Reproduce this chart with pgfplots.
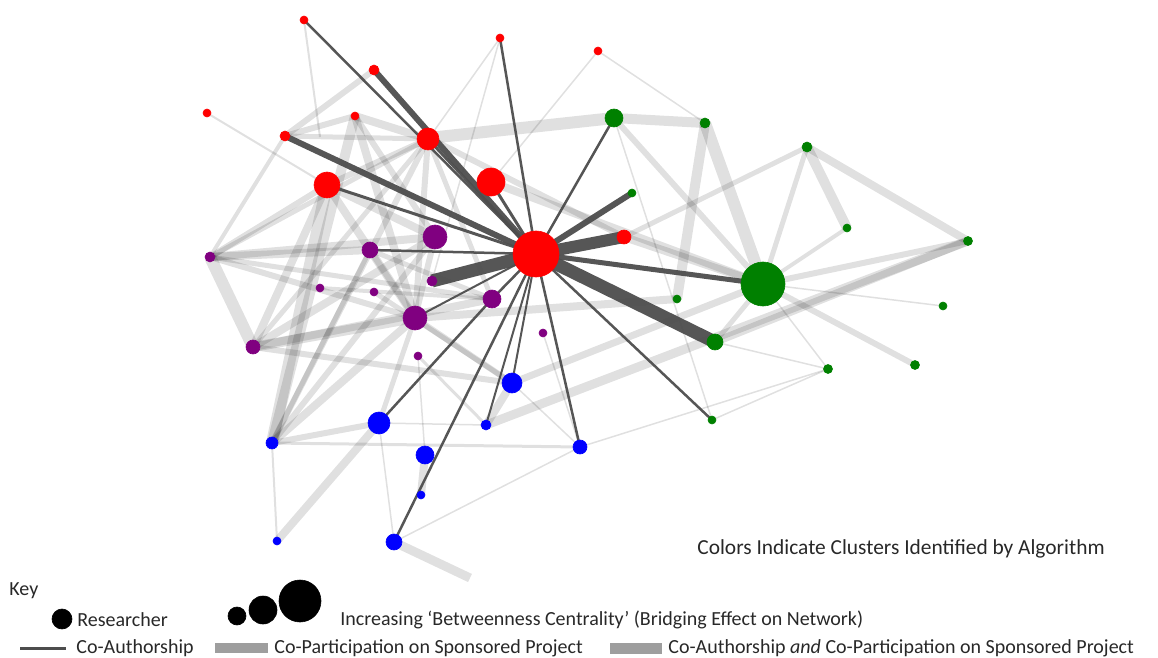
\documentclass[border=0pt]{standalone}
\usepackage{pgfplots}
\pgfplotsset{compat=1.18}
\usepackage{fontspec}
\setmainfont{Carlito}
\definecolor{nred}{RGB}{255,0,0}
\definecolor{ngreen}{RGB}{0,128,0}
\definecolor{npurple}{RGB}{128,0,128}
\definecolor{nblue}{RGB}{0,0,255}
\definecolor{dk}{RGB}{77,77,77}
\definecolor{txt}{RGB}{40,40,40}
\newcommand\LE[5]{\addplot[draw=black, draw opacity=0.12, line width=#5*0.5pt] coordinates {(#1,#2) (#3,#4)};}
\newcommand\DE[5]{\addplot[draw=dk, draw opacity=0.95, line width=#5*0.5pt] coordinates {(#1,#2) (#3,#4)};}
\newcommand\ND[4]{\addplot[only marks, mark=*, mark size=#4*0.5pt, draw=#1, fill=#1, line width=0.3pt] coordinates {(#2,#3)};}
\begin{document}
\begin{tikzpicture}
\begin{axis}[scale only axis, width=579pt, height=329pt,
  xmin=0, xmax=1158, ymin=0, ymax=658, y dir=reverse,
  axis lines=none, clip=false]
% ---- light edges (co-participation)
\LE{429}{138}{614}{118}{12}
\LE{614}{118}{705}{123}{10}
\LE{705}{123}{763}{284}{12}
\LE{705}{123}{677}{299}{10}
\LE{614}{118}{763}{284}{6}
\LE{614}{118}{712}{420}{1.5}
\LE{614}{118}{536}{254}{1.5}
\LE{807}{147}{847}{228}{10}
\LE{807}{147}{968}{241}{8}
\LE{807}{147}{763}{284}{5}
\LE{807}{147}{624}{237}{5}
\LE{847}{228}{763}{284}{4}
\LE{968}{241}{763}{284}{6}
\LE{968}{241}{715}{342}{8}
\LE{968}{241}{486}{425}{9}
\LE{763}{284}{512}{383}{7}
\LE{677}{299}{415}{318}{8}
\LE{763}{284}{915}{365}{6}
\LE{763}{284}{943}{306}{1.5}
\LE{763}{284}{828}{369}{1.5}
\LE{763}{284}{715}{342}{5}
\LE{715}{342}{828}{369}{1.5}
\LE{580}{447}{828}{369}{1.5}
\LE{712}{420}{828}{369}{1.5}
\LE{598}{51}{705}{123}{1.5}
\LE{598}{51}{491}{182}{1.5}
\LE{500}{38}{429}{138}{1.5}
\LE{500}{38}{432}{281}{1.5}
\LE{624}{237}{763}{284}{8}
\LE{491}{182}{763}{284}{8}
\LE{429}{138}{624}{237}{6}
% left cluster
\LE{210}{257}{253}{347}{12}
\LE{210}{257}{285}{136}{4}
\LE{210}{257}{327}{185}{6}
\LE{210}{257}{428}{139}{5}
\LE{210}{257}{435}{237}{8}
\LE{210}{257}{415}{318}{6}
\LE{210}{257}{370}{250}{8}
\LE{210}{257}{492}{299}{5}
\LE{253}{347}{327}{185}{8}
\LE{253}{347}{435}{237}{8}
\LE{253}{347}{415}{318}{10}
\LE{253}{347}{492}{299}{8}
\LE{253}{347}{512}{383}{6}
\LE{253}{347}{428}{139}{5}
\LE{272}{443}{327}{185}{12}
\LE{272}{443}{355}{116}{10}
\LE{272}{443}{428}{139}{6}
\LE{272}{443}{435}{237}{6}
\LE{272}{443}{370}{250}{5}
\LE{272}{443}{415}{318}{8}
\LE{272}{443}{379}{423}{6}
\LE{272}{443}{580}{447}{3}
\LE{272}{443}{277}{541}{2}
\LE{277}{541}{379}{423}{8}
\LE{285}{136}{355}{116}{6}
\LE{285}{136}{428}{139}{5}
\LE{355}{116}{428}{139}{8}
\LE{355}{116}{415}{318}{8}
\LE{355}{116}{435}{237}{6}
\LE{327}{185}{435}{237}{8}
\LE{327}{185}{415}{318}{8}
\LE{327}{185}{428}{139}{6}
\LE{374}{70}{285}{136}{6}
\LE{304}{20}{320}{137}{2}
\LE{207}{113}{327}{185}{2}
\LE{370}{250}{415}{318}{6}
\LE{435}{237}{415}{318}{6}
\LE{428}{139}{415}{318}{6}
\LE{428}{139}{492}{299}{5}
\LE{370}{250}{492}{299}{5}
\LE{320}{288}{492}{299}{4}
\LE{374}{292}{512}{383}{5}
\LE{379}{423}{415}{318}{5}
\LE{379}{423}{486}{425}{1.5}
\LE{379}{423}{394}{542}{1.5}
\LE{425}{455}{421}{495}{8}
\LE{425}{455}{418}{356}{1.5}
\LE{394}{542}{580}{447}{1.5}
\LE{394}{542}{470}{578}{9}
\LE{486}{425}{512}{383}{8}
\LE{512}{383}{415}{318}{6}
\LE{580}{447}{512}{383}{1.5}
\LE{543}{333}{580}{447}{1.5}
\LE{418}{356}{486}{425}{3}
% ---- dark edges (co-authorship)
\DE{304}{20}{536}{254}{2.5}
\DE{500}{38}{536}{254}{2.5}
\DE{374}{70}{536}{254}{6}
\DE{285}{136}{536}{254}{6}
\DE{327}{185}{536}{254}{3}
\DE{428}{139}{536}{254}{3}
\DE{491}{182}{536}{254}{3}
\DE{614}{118}{536}{254}{2.5}
\DE{632}{193}{536}{254}{6}
\DE{624}{237}{536}{254}{12}
\DE{763}{284}{536}{254}{5}
\DE{715}{342}{536}{254}{13}
\DE{712}{420}{536}{254}{2.5}
\DE{580}{447}{536}{254}{2.5}
\DE{394}{542}{536}{254}{2.5}
\DE{379}{423}{492}{299}{2.5}
\DE{492}{299}{536}{254}{2.5}
\DE{370}{250}{536}{254}{2.5}
\DE{432}{281}{536}{254}{13}
\DE{415}{318}{536}{254}{2}
\DE{486}{425}{536}{254}{2}
\DE{512}{383}{536}{254}{2}
% ---- nodes: red
\ND{nred}{536}{254}{23}
\ND{nred}{491}{182}{14}
\ND{nred}{327}{185}{13}
\ND{nred}{428}{139}{11}
\ND{nred}{624}{237}{7}
\ND{nred}{304}{20}{4}
\ND{nred}{500}{38}{4}
\ND{nred}{598}{51}{4}
\ND{nred}{374}{70}{5}
\ND{nred}{207}{113}{4}
\ND{nred}{355}{116}{4}
\ND{nred}{285}{136}{5}
% green
\ND{ngreen}{763}{284}{22}
\ND{ngreen}{614}{118}{9}
\ND{ngreen}{715}{342}{8}
\ND{ngreen}{705}{123}{5}
\ND{ngreen}{807}{147}{5}
\ND{ngreen}{968}{241}{4.5}
\ND{ngreen}{828}{369}{4.5}
\ND{ngreen}{915}{365}{4.5}
\ND{ngreen}{632}{193}{4}
\ND{ngreen}{847}{228}{4}
\ND{ngreen}{677}{299}{4}
\ND{ngreen}{943}{306}{4}
\ND{ngreen}{712}{420}{4}
% purple
\ND{npurple}{435}{237}{12}
\ND{npurple}{415}{318}{12}
\ND{npurple}{370}{250}{8}
\ND{npurple}{492}{299}{9}
\ND{npurple}{253}{347}{7}
\ND{npurple}{210}{257}{5}
\ND{npurple}{432}{281}{5}
\ND{npurple}{543}{333}{4}
\ND{npurple}{320}{288}{4}
\ND{npurple}{374}{292}{4}
\ND{npurple}{418}{356}{4}
% blue
\ND{nblue}{512}{383}{10}
\ND{nblue}{379}{423}{11}
\ND{nblue}{425}{455}{9}
\ND{nblue}{580}{447}{7}
\ND{nblue}{394}{542}{8}
\ND{nblue}{486}{425}{5}
\ND{nblue}{272}{443}{6}
\ND{nblue}{421}{495}{4}
\ND{nblue}{277}{541}{4}
% ---- key
\ND{black}{62}{619}{10}
\ND{black}{237}{616}{9}
\ND{black}{263}{610}{14}
\ND{black}{300}{601}{21}
\addplot[draw=dk, line width=1.5pt] coordinates {(20,648) (66,648)};
\addplot[draw=black!38, line width=5pt] coordinates {(215,648) (268,648)};
\addplot[draw=black!38, line width=5.5pt] coordinates {(610,648) (662,648)};
\begin{scope}[every node/.style={anchor=west, inner sep=0pt, text=txt, font=\fontsize{10}{12}\selectfont}]
\node[font=\fontsize{10.7}{13}\selectfont] at (axis cs:697,549) {Colors Indicate Clusters Identified by Algorithm};
\node at (axis cs:9,591) {Key};
\node at (axis cs:77,620) {Researcher};
\node at (axis cs:340,620) {Increasing ‘Betweenness Centrality’ (Bridging Effect on Network)};
\node at (axis cs:76,648) {Co-Authorship};
\node at (axis cs:274,648) {Co-Participation on Sponsored Project};
\node at (axis cs:668,648) {Co-Authorship \emph{and} Co-Participation on Sponsored Project};
\end{scope}
\end{axis}
\pgfresetboundingbox
\path (current axis.south west) rectangle (current axis.north east);
\end{tikzpicture}
\end{document}
